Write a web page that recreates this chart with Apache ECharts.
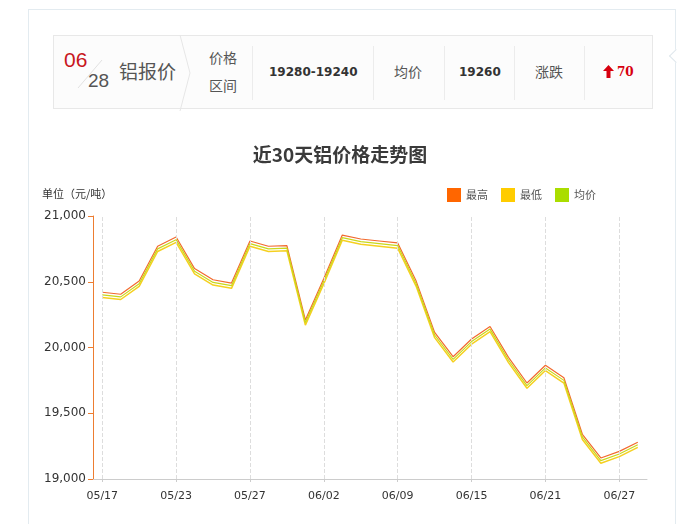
<!DOCTYPE html>
<html>
<head>
<meta charset="utf-8">
<script src="https://cdn.jsdelivr.net/npm/echarts@6/dist/echarts.min.js"></script>
<style>
  html, body { margin:0; padding:0; background:#fff; }
  body { width:680px; height:524px; position:relative; overflow:hidden; font-family:"Noto Sans CJK SC", "DejaVu Sans", sans-serif; }
  #frame { position:absolute; left:28px; top:9px; width:648px; height:600px; border:1px solid #e3ebf0; box-sizing:border-box; }
  #notch { position:absolute; left:671px; top:51px; width:9px; height:9px; border-left:1px solid #dfe7ec; border-bottom:1px solid #dfe7ec; background:#fff; transform:rotate(45deg); }
  #chart { position:absolute; left:0; top:0; width:680px; height:524px; }
  #hdr { position:absolute; left:53px; top:35px; width:600px; height:74px; border:1px solid #e8e8e8; box-sizing:border-box; background:#fcfcfc; z-index:5; }
  .t { position:absolute; white-space:nowrap; line-height:1; }
  .vd { position:absolute; top:10px; width:1px; height:54px; background:#ececec; }
</style>
</head>
<body>
<div id="frame"></div>
<div id="notch"></div>
<div id="chart"></div>
<div id="hdr">
  <div class="t" style="left:10px;top:13px;font-family:'Liberation Sans',Arial,sans-serif;font-size:21px;color:#c8161d;">06</div>
  <svg style="position:absolute;left:20px;top:18px;" width="40" height="40"><line x1="4" y1="34" x2="28" y2="6" stroke="#e2e2e2" stroke-width="1"/></svg>
  <div class="t" style="left:34px;top:35px;font-family:'Liberation Sans',Arial,sans-serif;font-size:19px;color:#555;">28</div>
  <div class="t" style="left:65px;top:25px;font-size:19px;color:#555;">铝报价</div>
  <svg style="position:absolute;left:124px;top:-1px;" width="20" height="76"><polyline points="2,0 12,38 2,76" fill="none" stroke="#e6e6e6" stroke-width="1"/></svg>
  <div class="t" style="left:155px;top:14px;font-size:14px;color:#555;">价格</div>
  <div class="t" style="left:155px;top:42px;font-size:14px;color:#555;">区间</div>
  <div class="vd" style="left:198px;"></div>
  <div class="t" style="left:215px;top:30px;font-family:'DejaVu Sans',sans-serif;font-weight:bold;font-size:12px;color:#333;">19280-19240</div>
  <div class="vd" style="left:319px;"></div>
  <div class="t" style="left:340px;top:28px;font-size:14px;color:#555;">均价</div>
  <div class="vd" style="left:390px;"></div>
  <div class="t" style="left:405px;top:30px;font-family:'DejaVu Sans',sans-serif;font-weight:bold;font-size:12px;color:#333;">19260</div>
  <div class="vd" style="left:460px;"></div>
  <div class="t" style="left:481px;top:28px;font-size:14px;color:#555;">涨跌</div>
  <div class="vd" style="left:530px;"></div>
  <svg style="position:absolute;left:549px;top:29px;" width="12" height="14"><polygon points="5.5,0 11,6 7.5,6 7.5,13 3.5,13 3.5,6 0,6" fill="#d7000f"/></svg>
  <div class="t" style="left:563px;top:30px;font-family:'DejaVu Serif',serif;font-weight:bold;font-size:12px;color:#d7000f;">70</div>
</div>
<script>
var dates = ['05/17','05/20','05/21','05/22','05/23','05/24','05/25','05/26','05/27','05/28',
             '05/29','05/30','06/02','06/03','06/04','06/05','06/09','06/10','06/11','06/12',
             '06/15','06/17','06/18','06/19','06/21','06/24','06/25','06/26','06/27','06/28'];
var highPrices = [20420,20405,20505,20770,20840,20600,20515,20490,20810,20770,
                  20775,20210,20525,20855,20825,20810,20795,20505,20115,19930,
                  20065,20160,19925,19730,19865,19770,19340,19160,19210,19280];
var lowPrices  = [20380,20365,20465,20730,20800,20560,20475,20450,20770,20730,
                  20735,20170,20485,20815,20785,20770,20755,20465,20075,19890,
                  20025,20120,19885,19690,19825,19730,19300,19120,19170,19240];
var avgPrices  = [20400,20385,20485,20750,20820,20580,20495,20470,20790,20750,
                  20755,20190,20505,20835,20805,20790,20775,20485,20095,19910,
                  20045,20140,19905,19710,19845,19750,19320,19140,19190,19260];
var seriesNames = ['最高','最低','均价'];
var yTicks = [19000, 19500, 20000, 20500, 21000];
var gridDates = ['05/17','05/23','05/27','06/02','06/09','06/15','06/21','06/27'];

var chart = echarts.init(document.getElementById('chart'), null, {renderer:'canvas'});
function fmt(v){ return String(v).replace(/\B(?=(\d{3})+(?!\d))/g, ','); }
chart.setOption({
  animation:false,
  color:['#ff6600','#ffcc00','#aadd00'],
  title:[
    {text:'近30天铝价格走势图', left:'center', top:140,
     textStyle:{fontSize:19, fontWeight:'bold', color:'#3a3a3a', fontFamily:'Noto Sans CJK SC'}},
    {text:'单位（元/吨）', left:37, top:183,
     textStyle:{fontSize:11, fontWeight:'normal', color:'#333', fontFamily:'Noto Sans CJK SC'}}
  ],
  legend:{
    data:seriesNames, left:442, top:183, icon:'rect', itemWidth:14, itemHeight:14, itemGap:13,
    textStyle:{fontSize:11, color:'#555', fontFamily:'Noto Sans CJK SC'}
  },
  grid:{left:93, right:33, top:216, bottom:45, containLabel:false},
  xAxis:{
    type:'category', data:dates, boundaryGap:true,
    axisLine:{lineStyle:{color:'#cccccc'}},
    axisTick:{show:true, alignWithLabel:true, interval:3, length:3, lineStyle:{color:'#cccccc'}},
    axisLabel:{interval:3, color:'#333', fontSize:11, fontFamily:'DejaVu Sans', margin:12},
    splitLine:{show:false}
  },
  yAxis:{
    type:'value', min:yTicks[0], max:yTicks[yTicks.length-1], interval:500,
    axisLine:{show:true, lineStyle:{color:'#ed7d31'}},
    axisTick:{show:true, length:5, lineStyle:{color:'#ed7d31'}},
    axisLabel:{color:'#333', fontSize:12, fontFamily:'DejaVu Sans', margin:7, formatter:fmt},
    splitLine:{show:false}
  },
  series:[
    {name:seriesNames[0], type:'line', data:highPrices, symbol:'none', lineStyle:{width:1.2, color:'#f26a2e'}, z:3,
     markLine:{silent:true, symbol:'none', label:{show:false},
       lineStyle:{type:'dashed', color:'#dddddd', width:1},
       data:gridDates.map(function(d){ return {xAxis:d}; })}},
    {name:seriesNames[1], type:'line', data:lowPrices, symbol:'none', lineStyle:{width:1.5, color:'#f5d020'}, z:3},
    {name:seriesNames[2], type:'line', data:avgPrices, symbol:'none', lineStyle:{width:1.2, color:'#c8d81a'}, z:3}
  ]
});
</script>
</body>
</html>
